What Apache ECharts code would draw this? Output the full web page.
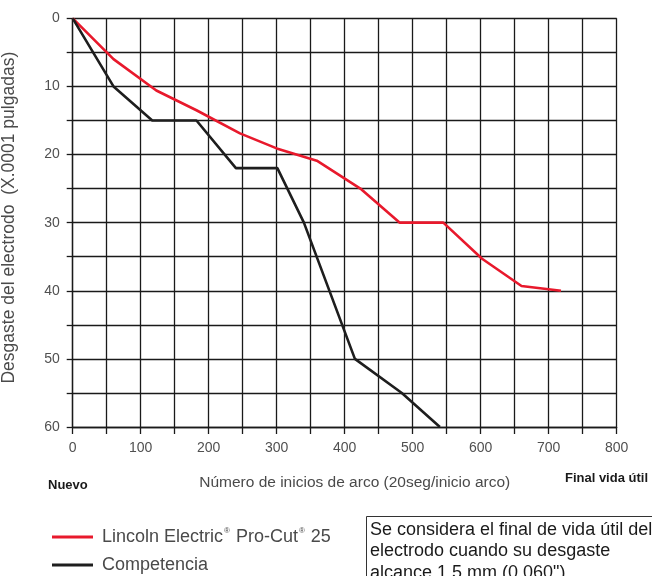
<!DOCTYPE html>
<html>
<head>
<meta charset="utf-8">
<script src="https://cdn.jsdelivr.net/npm/echarts@6/dist/echarts.min.js"></script>
<style>
html,body{margin:0;padding:0;background:#fff;}
#chart{width:652px;height:576px;}
</style>
</head>
<body>
<div id="chart"></div>
<script>
// Data (x = arc starts, y = electrode wear in X.0001 in)
const lincolnX = [0, 60, 123, 182, 246, 300, 359, 423, 481, 545, 602, 660, 718];
const lincolnY = [0, 6, 10.6, 13.5, 16.9, 19.1, 20.9, 25, 30, 30, 35.3, 39.3, 40];
const compX = [0, 60, 117, 182, 240, 301, 340, 415, 484, 540];
const compY = [0, 10, 15, 15, 22, 22, 30, 50, 55, 60];
const seriesNames = ['Lincoln Electric® Pro-Cut® 25', 'Competencia'];
const xTicks = [0, 100, 200, 300, 400, 500, 600, 700, 800];
const yTicks = [0, 10, 20, 30, 40, 50, 60];

const FONT = '"Liberation Sans", Arial, sans-serif';
const GRID = '#1a1a1a';

const chart = echarts.init(document.getElementById('chart'), null, {renderer: 'canvas'});
const pair = (xs, ys) => xs.map((x, i) => [x, ys[i]]);

chart.setOption({
  animation: false,
  backgroundColor: '#fff',
  grid: {left: 72.7, top: 18.3, right: 35.3, bottom: 149, containLabel: false, outerBoundsMode: 'none'},
  xAxis: {
    type: 'value', min: 0, max: 800, interval: 50, position: 'bottom',
    axisLine: {show: true, onZero: false, lineStyle: {color: GRID, width: 1.3}},
    axisTick: {show: true, length: 7, lineStyle: {color: GRID, width: 1.3}},
    splitLine: {show: true, lineStyle: {color: GRID, width: 1.3}},
    axisLabel: {
      margin: 14, color: '#505050', fontFamily: FONT, fontSize: 14,
      formatter: v => xTicks.includes(v) ? String(v) : ''
    },
    name: 'Número de inicios de arco (20seg/inicio arco)',
    nameLocation: 'middle', nameGap: 48,
    nameTextStyle: {color: '#4a4a4a', fontFamily: FONT, fontSize: 15.5, padding: [0, 0, 0, 20]}
  },
  yAxis: {
    type: 'value', min: 0, max: 60, interval: 5, inverse: true,
    axisLine: {show: true, lineStyle: {color: GRID, width: 1.3}},
    axisTick: {show: true, length: 6, lineStyle: {color: GRID, width: 1.3}},
    splitLine: {show: true, lineStyle: {color: GRID, width: 1.3}},
    axisLabel: {
      margin: 13, color: '#505050', fontFamily: FONT, fontSize: 14,
      formatter: v => yTicks.includes(v) ? String(v) : ''
    },
    name: 'Desgaste del electrodo  (X.0001 pulgadas)',
    nameLocation: 'middle', nameGap: 55, nameRotate: 90,
    nameTextStyle: {color: '#4a4a4a', fontFamily: FONT, fontSize: 17.5, padding: [0, 0, 0, 10]}
  },
  legend: {
    orient: 'vertical', left: 52, top: 527, height: 49, padding: 0,
    itemWidth: 41, itemHeight: 3, itemGap: 8,
    icon: 'rect',
    data: seriesNames,
    textStyle: {
      color: '#4a4a4a', fontFamily: FONT, fontSize: 18, lineHeight: 20, padding: [0, 0, 0, 4],
      rich: {s: {fontSize: 8, verticalAlign: 'top', color: '#4a4a4a', fontFamily: FONT, padding: [0, 1, 8, 1]}}
    },
    formatter: n => n.replace(/®/g, '{s|®}')
  },
  graphic: [
    {type: 'text', left: 48, top: 479, style: {text: 'Nuevo', font: 'bold 13px ' + FONT, fill: '#1a1a1a'}},
    {type: 'text', right: 4, top: 472, style: {text: 'Final vida útil', font: 'bold 13px ' + FONT, fill: '#1a1a1a'}},
    {type: 'rect', shape: {x: 366.5, y: 516.5, width: 320, height: 100}, style: {fill: 'none', stroke: '#333', lineWidth: 1}},
    {type: 'text', x: 370, y: 519, style: {
      text: 'Se considera el final de vida útil del\nelectrodo cuando su desgaste\nalcance 1.5 mm (0.060")',
      font: '18px ' + FONT, fill: '#1a1a1a', lineHeight: 21.5}}
  ],
  series: [
    {name: seriesNames[0], type: 'line', data: pair(lincolnX, lincolnY), symbol: 'none',
     lineStyle: {color: '#e8192c', width: 2.6}, itemStyle: {color: '#e8192c'}, z: 3},
    {name: seriesNames[1], type: 'line', data: pair(compX, compY), symbol: 'none',
     lineStyle: {color: '#1e1e1e', width: 2.6}, itemStyle: {color: '#1e1e1e'}, z: 3}
  ]
});
</script>
</body>
</html>
